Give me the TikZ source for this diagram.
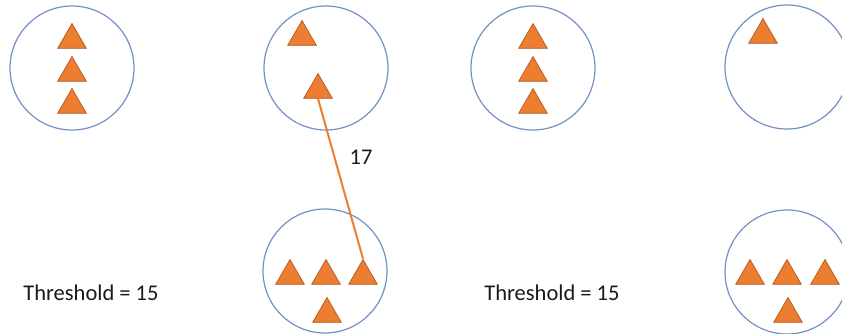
\documentclass[tikz,border=0pt]{standalone}
\usepackage{fontspec}
\setmainfont{Carlito}
\usetikzlibrary{shapes.geometric}

\definecolor{ringblue}{RGB}{114,144,196}
\definecolor{pointfill}{RGB}{237,125,49}
\definecolor{pointedge}{RGB}{174,90,33}

\tikzset{
	cluster/.style={circle, draw=ringblue, line width=1.2pt, minimum size=124pt, inner sep=0pt},
	point/.style={regular polygon, regular polygon sides=3, fill=pointfill, draw=pointedge, line width=0.7pt, minimum size=33pt, inner sep=0pt},
	link/.style={draw=pointfill, line width=2pt},
	caption/.style={font=\fontsize{22.5}{27}\selectfont, text=black!90}
}

\begin{document}
\begin{tikzpicture}[x=1pt, y=-1pt]
	\useasboundingbox (0,0) rectangle (842,333);
	\clip (0,0) rectangle (842,333);

	% clusters
	\node[cluster] (c1) at (72,68) {};
	\node[cluster] (c2) at (326,68) {};
	\node[cluster] (c3) at (325,271) {};
	\node[cluster] (c4) at (533,68) {};
	\node[cluster] (c5) at (787,67) {};
	\node[cluster] (c6) at (787,272) {};

	% points, left half
	\node[point] (p11) at (72,40) {};
	\node[point] (p12) at (72,73) {};
	\node[point] (p13) at (72,105) {};
	\node[point] (p21) at (302,37) {};
	\node[point] (p22) at (318,90) {};
	\node[point] (p31) at (290,276) {};
	\node[point] (p32) at (326,276) {};
	\node[point] (p33) at (363,276) {};
	\node[point] (p34) at (327,314) {};

	% points, right half
	\node[point] (p41) at (533,40) {};
	\node[point] (p42) at (533,73) {};
	\node[point] (p43) at (533,105) {};
	\node[point] (p51) at (763,35) {};
	\node[point] (p61) at (750,276) {};
	\node[point] (p62) at (787,276) {};
	\node[point] (p63) at (825,276) {};
	\node[point] (p64) at (788,314) {};

	% distance
	\draw[link] (p22.side 2) -- (p33.corner 1);
	\node[caption] (dist) at (361,157) {17};

	% thresholds
	\node[caption] (thr1) at (91,293) {Threshold = 15};
	\node[caption] (thr2) at (552,293) {Threshold = 15};
\end{tikzpicture}
\end{document}
